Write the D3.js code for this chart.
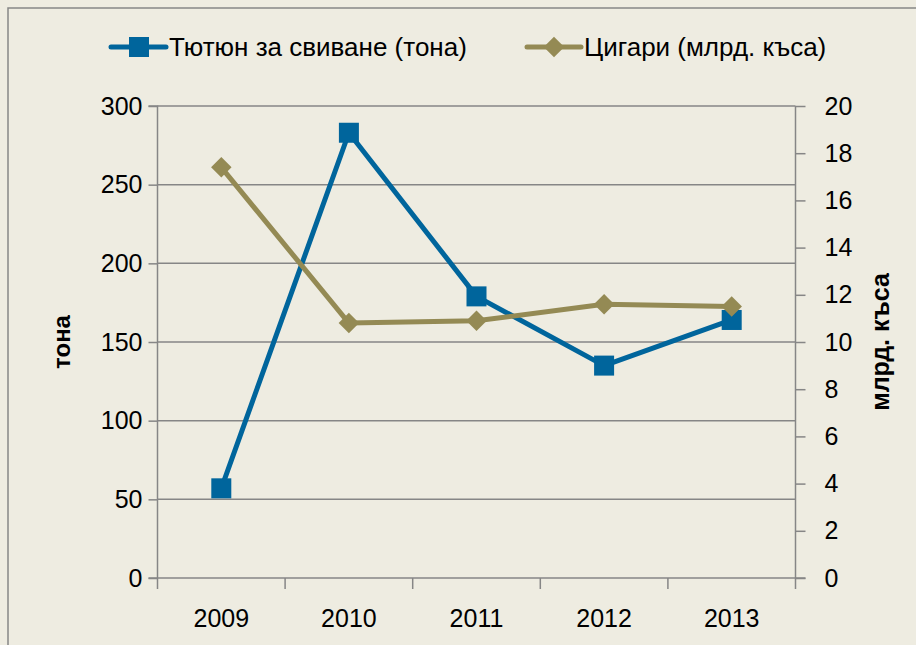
<!DOCTYPE html>
<html>
<head>
<meta charset="utf-8">
<script src="https://cdn.jsdelivr.net/npm/d3@7"></script>
<style>
    body { margin: 0; background: #EEECE1; }
    svg { display: block; font-family: "Liberation Sans", Arial, sans-serif; }
</style>
</head>
<body>
<script>
const years = ["2009", "2010", "2011", "2012", "2013"];
const tobacco = [57, 283, 179, 135, 164];      // тона
const cigarettes = [17.4, 10.8, 10.9, 11.6, 11.5]; // млрд. къса
const leftTicks = [0, 50, 100, 150, 200, 250, 300];
const rightTicks = [0, 2, 4, 6, 8, 10, 12, 14, 16, 18, 20];
const seriesNames = ["Тютюн за свиване (тона)", "Цигари (млрд. къса)"];

(function () {
    const width = 916, height = 645;
    const blue = "#00659C", gold = "#948A54", grid = "#868686";

    let svg = d3.select("body").append("svg")
        .attr("width", width)
        .attr("height", height);

    svg.append("rect")
        .attr("x", 8).attr("y", 8)
        .attr("width", 940).attr("height", 680)
        .attr("fill", "#EEECE1")
        .attr("stroke", grid)
        .attr("stroke-width", 1.5);

    let x = d3.scaleBand().domain(years).range([157.5, 795.5]);
    let yL = d3.scaleLinear().domain([0, 300]).range([578, 106]);
    let yR = d3.scaleLinear().domain([0, 20]).range([578, 106]);

    // gridlines
    svg.append("g").selectAll("line")
        .data(leftTicks.filter(d => d > 0))
        .enter().append("line")
        .attr("x1", x.range()[0]).attr("x2", x.range()[1])
        .attr("y1", d => yL(d)).attr("y2", d => yL(d))
        .attr("stroke", grid).attr("stroke-width", 1.5);

    let leftAxis = svg.append("g")
        .attr("transform", `translate(${x.range()[0]},0)`)
        .call(d3.axisLeft(yL).tickValues(leftTicks).tickSize(9).tickPadding(6));

    let rightAxis = svg.append("g")
        .attr("transform", `translate(${x.range()[1]},0)`)
        .call(d3.axisRight(yR).tickValues(rightTicks).tickSize(10).tickPadding(19));

    // x axis with ticks on band edges
    let xAxis = svg.append("g").attr("transform", `translate(0,${yL(0)})`);
    xAxis.append("line")
        .attr("x1", x.range()[0] - 9).attr("x2", x.range()[1] + 10)
        .attr("stroke", grid).attr("stroke-width", 1.5);
    xAxis.selectAll(".edge")
        .data(years.concat(["end"]))
        .enter().append("line")
        .attr("x1", (d, i) => x.range()[0] + i * x.bandwidth())
        .attr("x2", (d, i) => x.range()[0] + i * x.bandwidth())
        .attr("y1", 0).attr("y2", 11)
        .attr("stroke", grid).attr("stroke-width", 1.5);
    xAxis.selectAll("text")
        .data(years)
        .enter().append("text")
        .attr("x", d => x(d) + x.bandwidth() / 2)
        .attr("y", 49)
        .attr("text-anchor", "middle")
        .style("font-size", "25px")
        .text(d => d);

    [leftAxis, rightAxis].forEach(g => {
        g.select(".domain").attr("stroke", grid).attr("stroke-width", 1.5);
        g.selectAll(".tick line").attr("stroke", grid).attr("stroke-width", 1.5);
        g.selectAll(".tick text").style("font-size", "25px").attr("fill", "#000");
    });
    leftAxis.select(".domain").attr("d", `M-9,${yL(300)}H0V${yL(0)}`);
    rightAxis.select(".domain").attr("d", `M0,${yR(20)}V${yR(0)}`);

    // axis titles
    svg.append("text")
        .attr("transform", `translate(70,342) rotate(-90)`)
        .attr("text-anchor", "middle")
        .style("font-size", "24px").style("font-weight", "bold")
        .text("тона");
    svg.append("text")
        .attr("transform", `translate(889,342) rotate(-90)`)
        .attr("text-anchor", "middle")
        .style("font-size", "25px").style("font-weight", "bold")
        .text("млрд. къса");

    let cx = d => x(d) + x.bandwidth() / 2;

    // tobacco line
    svg.append("path")
        .datum(tobacco)
        .attr("fill", "none").attr("stroke", blue).attr("stroke-width", 5)
        .attr("stroke-linejoin", "round")
        .attr("d", d3.line().x((d, i) => cx(years[i])).y(d => yL(d)));

    // cigarettes line
    svg.append("path")
        .datum(cigarettes)
        .attr("fill", "none").attr("stroke", gold).attr("stroke-width", 5)
        .attr("stroke-linejoin", "round")
        .attr("d", d3.line().x((d, i) => cx(years[i])).y(d => yR(d)));

    svg.selectAll(".sq")
        .data(tobacco)
        .enter().append("rect")
        .attr("x", (d, i) => cx(years[i]) - 10)
        .attr("y", d => yL(d) - 10)
        .attr("width", 20).attr("height", 20)
        .attr("fill", blue);

    let diamond = d3.symbol().type(d3.symbolSquare).size(210);
    svg.selectAll(".dm")
        .data(cigarettes)
        .enter().append("path")
        .attr("d", diamond)
        .attr("transform", (d, i) => `translate(${cx(years[i])},${yR(d)}) rotate(45)`)
        .attr("fill", gold);

    // legend
    let legend = svg.append("g").attr("transform", "translate(0,47)");
    legend.append("line").attr("x1", 111).attr("x2", 166)
        .attr("stroke", blue).attr("stroke-width", 5).attr("stroke-linecap", "round");
    legend.append("rect").attr("x", 129).attr("y", -10).attr("width", 20).attr("height", 20)
        .attr("fill", blue);
    legend.append("text").attr("x", 169).attr("y", 9)
        .style("font-size", "26px").text(seriesNames[0]);

    legend.append("line").attr("x1", 527).attr("x2", 581)
        .attr("stroke", gold).attr("stroke-width", 5).attr("stroke-linecap", "round");
    legend.append("path").attr("d", diamond)
        .attr("transform", "translate(554,0) rotate(45)")
        .attr("fill", gold);
    legend.append("text").attr("x", 584).attr("y", 9)
        .style("font-size", "26px").text(seriesNames[1]);
})();
</script>
</body>
</html>
